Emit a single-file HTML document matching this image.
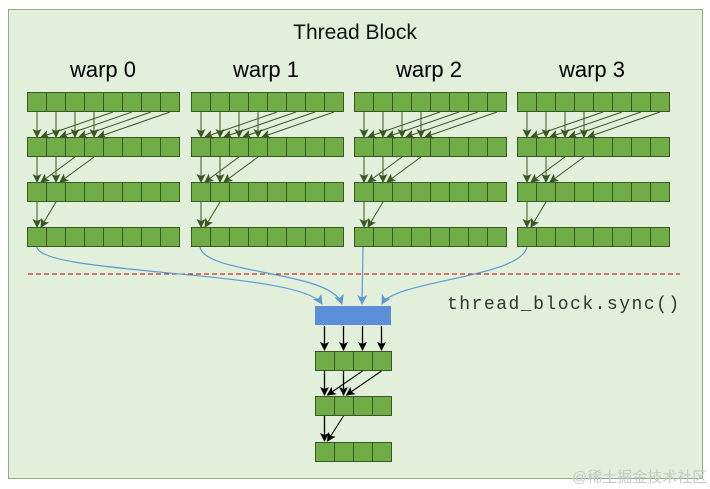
<!DOCTYPE html>
<html><head><meta charset="utf-8"><style>
html,body{margin:0;padding:0;background:#fff;width:710px;height:489px;overflow:hidden}
</style></head><body>
<svg id="s" width="710" height="489" xmlns="http://www.w3.org/2000/svg">
<defs>
<marker id="ag" markerWidth="9" markerHeight="9" refX="8" refY="4.5" orient="auto" markerUnits="userSpaceOnUse"><path d="M0,0 L9,4.5 L0,9 L2,4.5 z" fill="#385723"/></marker>
<marker id="ak" markerWidth="9" markerHeight="9" refX="8" refY="4.5" orient="auto" markerUnits="userSpaceOnUse"><path d="M0,0 L9,4.5 L0,9 L2,4.5 z" fill="#000"/></marker>
<marker id="ab" markerWidth="10" markerHeight="10" refX="9" refY="5" orient="auto" markerUnits="userSpaceOnUse"><path d="M0,0 L10,5 L0,10 L2.5,5 z" fill="#5b9bd5"/></marker>
</defs>
<rect x="8.5" y="9.5" width="694" height="469" fill="#e2efda" stroke="#8fb07a" stroke-width="1"/>
<text x="355" y="39" font-family="Liberation Sans, sans-serif" font-size="21" text-anchor="middle" fill="#111">Thread Block</text>
<g font-family="Liberation Sans, sans-serif" font-size="22" text-anchor="middle" fill="#000">
<text x="103" y="77">warp 0</text><text x="266" y="77">warp 1</text><text x="429" y="77">warp 2</text><text x="592" y="77">warp 3</text>
</g>
<line x1="28" y1="274" x2="680" y2="274" stroke="#c00000" stroke-dasharray="5,3" stroke-width="1"/>
<text x="447" y="309" font-family="Liberation Mono, monospace" font-size="18" letter-spacing="1.5" fill="#333">thread_block.sync()</text>
<g id="g"></g>
</svg>
<script>
var g=document.getElementById('g'),h='';
var cw=19,ch=19;
var xs=[27,191,354,517],ys=[92,137,182,227];
function cells(x,y,n,fill){for(var i=0;i<n;i++)h+='<rect x="'+(x+i*cw+.5)+'" y="'+(y+.5)+'" width="'+cw+'" height="'+ch+'" fill="'+fill+'" stroke="#385723" stroke-width="1"/>';}
function ar(x1,y1,x2,y2,m,c,w){h+='<line x1="'+x1+'" y1="'+y1+'" x2="'+x2+'" y2="'+y2+'" stroke="'+c+'" stroke-width="'+w+'" marker-end="url(#'+m+')"/>';}
xs.forEach(function(x){
 ys.forEach(function(y){cells(x,y,8,'#70ad47');});
 var lv=[4,2,1];
 for(var r=0;r<3;r++){var k=lv[r],y1=ys[r]+ch+1,y2=ys[r+1];
  for(var i=0;i<k;i++){var cx=x+i*cw+cw/2+.5;ar(cx,y1,cx,y2,'ag','#385723',1);
   ar(x+(i+k)*cw+cw/2+.5,y1,cx+4,y2,'ag','#385723',1);}}
});
h+='<path d="M37,247 C40,275 300,270 322,304" fill="none" stroke="#5b9bd5" stroke-width="1.2" marker-end="url(#ab)"/>';
h+='<path d="M200,247 C205,275 330,270 342,304" fill="none" stroke="#5b9bd5" stroke-width="1.2" marker-end="url(#ab)"/>';
h+='<path d="M363,247 L362,304" fill="none" stroke="#5b9bd5" stroke-width="1.2" marker-end="url(#ab)"/>';
h+='<path d="M527,247 C520,278 395,280 382,304" fill="none" stroke="#5b9bd5" stroke-width="1.2" marker-end="url(#ab)"/>';
h+='<rect x="315" y="306" width="76" height="19" fill="#5b8fd8"/>';
var ry=[351,396,442];
ry.forEach(function(y){cells(315,y,4,'#70ad47');});
for(var i=0;i<4;i++){var cx=315+i*cw+cw/2;ar(cx,326,cx,350,'ak','#000',1.3);}
var lv2=[2,1];
for(var r=0;r<2;r++){var k=lv2[r],y1=ry[r]+ch+1,y2=ry[r+1];
 for(var i=0;i<k;i++){var cx=315+i*cw+cw/2;ar(cx,y1,cx,y2-1,'ak','#000',1.3);ar(315+(i+k)*cw+cw/2,y1,cx+3,y2-1,'ak','#000',1.1);}}
g.innerHTML=h;
</script>
<div style="position:absolute;left:572px;top:466px;font:15px 'Liberation Sans','Noto Sans CJK SC',sans-serif;color:#c8c8c8">@稀土掘金技术社区</div>
</body></html>
